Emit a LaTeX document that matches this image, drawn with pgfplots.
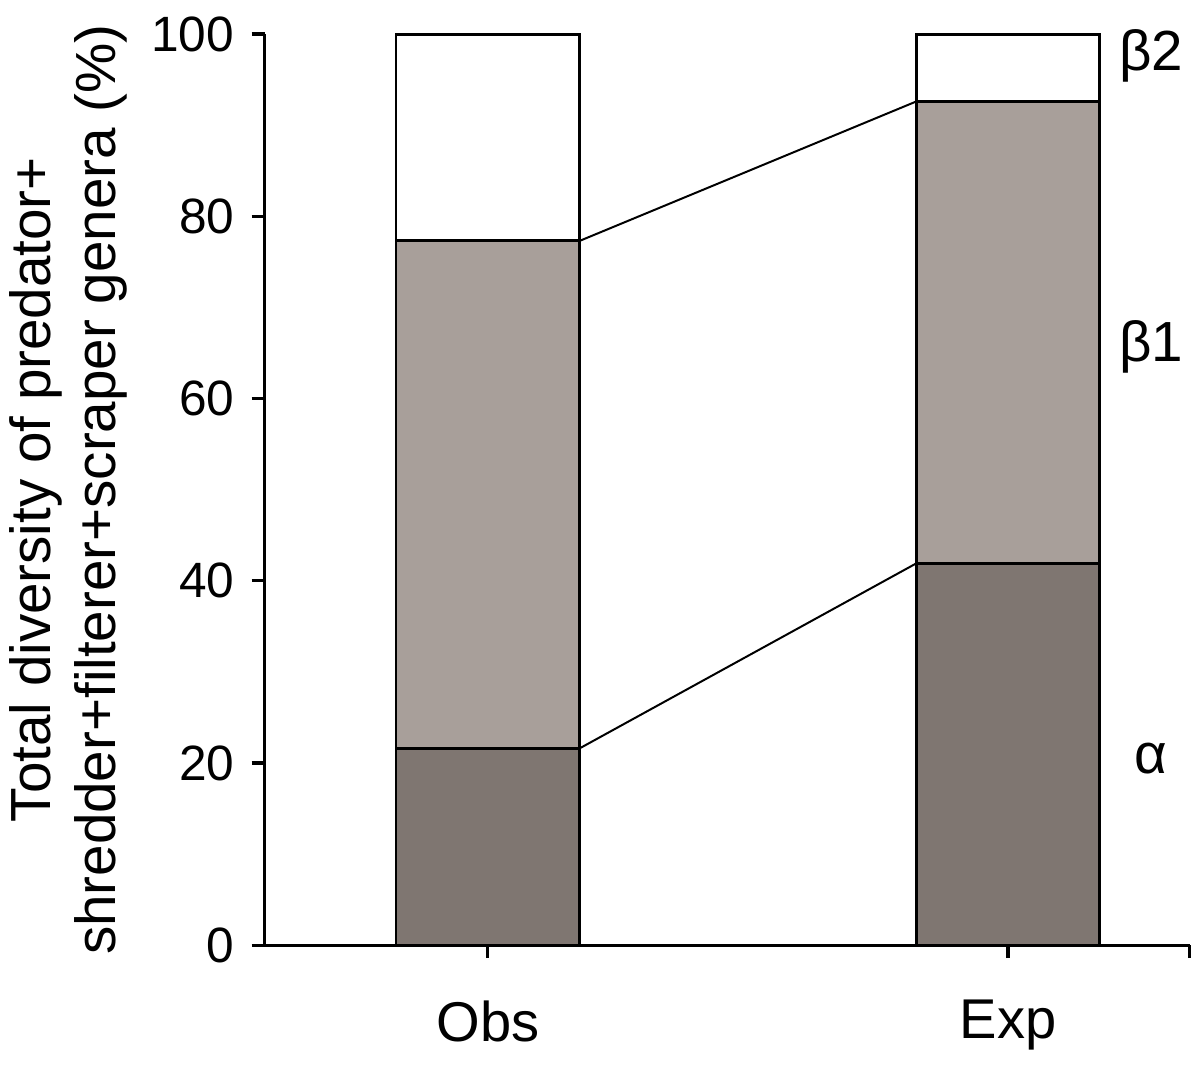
\documentclass[border=0pt]{standalone}
\usepackage{fontspec}
\setmainfont{Liberation Sans}
\usepackage{pgfplots}
\pgfplotsset{compat=1.18}
\definecolor{alphac}{RGB}{127,118,113}
\definecolor{betaone}{RGB}{168,159,154}
\begin{document}
\fontsize{10}{13}\selectfont
\begin{tikzpicture}
\begin{axis}[
  scale only axis,
  width=186.4pt, height=183.6pt,
  xmin=-0.429, xmax=1.349,
  ymin=0, ymax=100,
  axis x line=bottom, axis y line=left,
  axis line style={line width=0.65pt, -},
  tick align=outside,
  major tick length=2.6pt,
  minor tick length=2.6pt,
  tick style={line width=0.65pt, black},
  xtick={0,1}, xticklabels={Obs,Exp},
  minor xtick={1.349},
  ytick={0,20,40,60,80,100},
  xticklabel style={yshift=-5pt, font=\fontsize{11.3}{13}\selectfont},
  /pgf/number format/assume math mode=true,
  every axis y label/.style={at={(axis description cs:-0.212,0.5)}, rotate=90, anchor=center, align=center, inner sep=2pt, font=\fontsize{11.4}{13}\selectfont},
  ylabel={Total diversity of predator+\\shredder+filterer+scraper genera (\%)},
  ybar stacked,
  bar width=0.353,
  clip=false,
]
\addplot[fill=alphac, draw=black, line width=0.6pt] coordinates {(0,21.6) (1,41.9)};
\addplot[fill=betaone, draw=black, line width=0.6pt] coordinates {(0,55.7) (1,50.7)};
\addplot[fill=white, draw=black, line width=0.6pt] coordinates {(0,22.7) (1,7.4)};
\end{axis}
\begin{axis}[
  scale only axis,
  width=186.4pt, height=183.6pt,
  xmin=-0.429, xmax=1.349,
  ymin=0, ymax=100,
  hide axis, clip=false,
]
\addplot[black, line width=0.4pt] coordinates {(0.1765,21.6) (0.8235,41.9)};
\addplot[black, line width=0.4pt] coordinates {(0.1765,77.3) (0.8235,92.6)};
\node[inner sep=0pt, font=\fontsize{11.4}{13}\selectfont] at (axis cs:1.275,97.6) {β2};
\node[inner sep=0pt, font=\fontsize{11.4}{13}\selectfont] at (axis cs:1.275,65.7) {β1};
\node[inner sep=0pt, font=\fontsize{11.4}{13}\selectfont] at (axis cs:1.275,20.5) {α};
\end{axis}
\path (current axis.east) ++(1.6pt,0pt) node[inner sep=0pt] {};
\end{tikzpicture}
\end{document}
